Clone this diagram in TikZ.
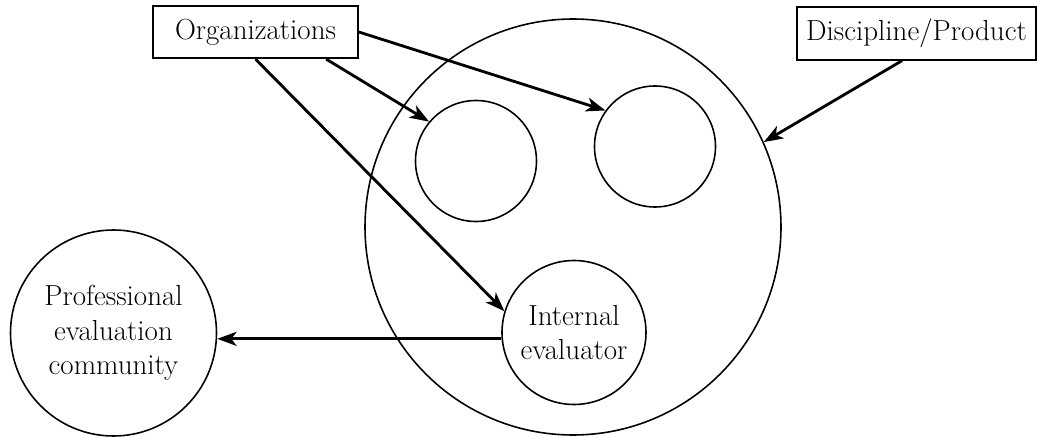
\documentclass[tikz,border=0pt]{standalone}
\usepackage{tikz}
\usetikzlibrary{positioning,arrows.meta}

\begin{document}
\begin{tikzpicture}[
  lbl/.style={rectangle, draw, line width=1pt, font=\fontsize{16.5}{19.5}\selectfont,
              minimum height=1.05cm, inner xsep=4pt, align=center},
  circ/.style={circle, draw, line width=0.9pt, inner sep=0pt, minimum size=#1,
               font=\fontsize{16.5}{19.5}\selectfont, align=center},
  ar/.style={-{Stealth[length=11pt, width=8pt, inset=3pt]}, line width=1.6pt},
]
\useasboundingbox (0,0) rectangle (20.74,8.74);

\node[circ=8.32cm] (grp)  at (11.46, 4.20) {};
\node[circ=2.42cm] (lsm)  at ( 9.52, 5.52) {};
\node[circ=2.42cm] (rsm)  at (13.10, 5.81) {};
\node[circ=2.88cm] (ieval) at (11.48, 2.09) {Internal\\evaluator};
\node[circ=4.12cm] (prof) at ( 2.27, 2.08) {Professional\\evaluation\\community};

\node[lbl, minimum width=4.1cm]  (org)  at ( 5.11, 8.10) {Organizations};
\node[lbl, minimum width=4.78cm] (disc) at (18.33, 8.07) {Discipline/Product};

\draw[ar] (org.south) -- (ieval.163);
\draw[ar] (org.-21)   -- (lsm.140);
\draw[ar] (org.east)  -- (rsm.144);
\draw[ar] (disc.-118) -- (grp.24);
\draw[ar] (ieval.185) -- (prof.east |- ieval.185);
\end{tikzpicture}
\end{document}
